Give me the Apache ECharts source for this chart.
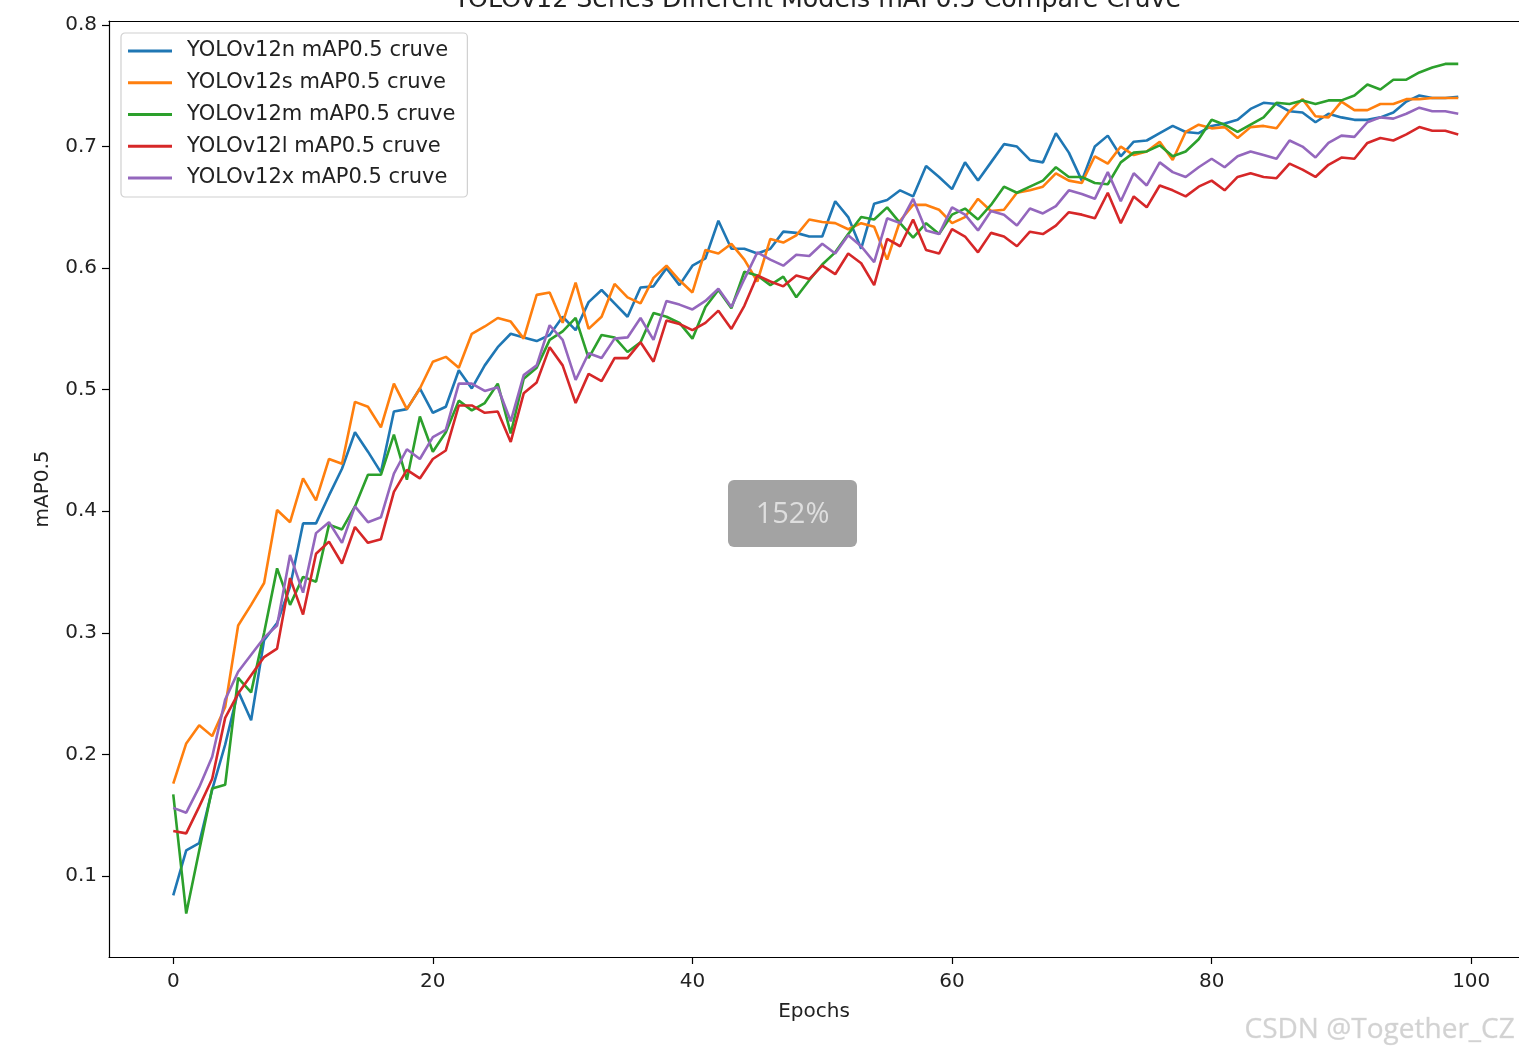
<!DOCTYPE html>
<html>
<head>
<meta charset="utf-8">
<script src="https://cdn.jsdelivr.net/npm/echarts@6/dist/echarts.min.js"></script>
<style>
html,body{margin:0;padding:0;background:#fff;overflow:hidden;}
#chart{width:1519px;height:1057px;}
</style>
</head>
<body>
<div id="chart"></div>
<script>
const seriesNames = ['YOLOv12n mAP0.5 cruve','YOLOv12s mAP0.5 cruve','YOLOv12m mAP0.5 cruve','YOLOv12l mAP0.5 cruve','YOLOv12x mAP0.5 cruve'];
const colors = ['#1f77b4','#ff7f0e','#2ca02c','#d62728','#9467bd'];
const xTicks = [0,20,40,60,80,100];
const yTicks = [0.1,0.2,0.3,0.4,0.5,0.6,0.7,0.8];

const yolo12n = [0.084,0.121,0.127,0.171,0.208,0.252,0.228,0.294,0.308,0.338,
0.390,0.390,0.413,0.435,0.465,0.449,0.432,0.482,0.484,0.501,
0.481,0.486,0.516,0.501,0.520,0.535,0.546,0.543,0.540,0.545,
0.560,0.549,0.572,0.582,0.571,0.560,0.584,0.585,0.600,0.586,
0.602,0.608,0.639,0.616,0.616,0.612,0.616,0.630,0.629,0.626,
0.626,0.655,0.642,0.616,0.653,0.656,0.664,0.659,0.684,0.675,
0.665,0.687,0.672,0.687,0.702,0.700,0.689,0.687,0.711,0.695,
0.672,0.700,0.709,0.692,0.704,0.705,0.711,0.717,0.712,0.711,
0.717,0.719,0.722,0.731,0.736,0.735,0.729,0.728,0.720,0.727,
0.724,0.722,0.722,0.724,0.728,0.737,0.742,0.740,0.740,0.741];

const yolo12s = [0.176,0.209,0.224,0.215,0.239,0.306,0.323,0.341,0.401,0.391,
0.427,0.409,0.443,0.439,0.490,0.486,0.469,0.505,0.484,0.501,
0.523,0.527,0.518,0.546,0.552,0.559,0.556,0.542,0.578,0.580,
0.555,0.588,0.550,0.560,0.587,0.576,0.571,0.592,0.602,0.590,
0.580,0.615,0.612,0.620,0.607,0.589,0.624,0.621,0.627,0.640,
0.638,0.637,0.632,0.637,0.634,0.607,0.639,0.652,0.652,0.648,
0.637,0.642,0.657,0.647,0.648,0.662,0.664,0.667,0.678,0.672,
0.670,0.692,0.686,0.700,0.693,0.696,0.704,0.689,0.712,0.718,
0.715,0.716,0.707,0.716,0.717,0.715,0.729,0.739,0.725,0.724,
0.737,0.730,0.730,0.735,0.735,0.739,0.739,0.740,0.740,0.740];

const yolo12m = [0.167,0.069,0.121,0.172,0.175,0.263,0.251,0.300,0.353,0.323,
0.346,0.342,0.389,0.385,0.404,0.430,0.430,0.463,0.426,0.478,
0.449,0.465,0.491,0.483,0.489,0.505,0.464,0.509,0.518,0.541,
0.548,0.559,0.526,0.545,0.543,0.531,0.539,0.563,0.560,0.555,
0.542,0.568,0.582,0.567,0.597,0.594,0.586,0.593,0.576,0.590,
0.603,0.613,0.628,0.642,0.640,0.650,0.637,0.625,0.637,0.628,
0.644,0.649,0.640,0.652,0.667,0.662,0.667,0.672,0.683,0.675,
0.675,0.670,0.669,0.687,0.695,0.696,0.701,0.692,0.696,0.706,
0.722,0.718,0.712,0.718,0.724,0.736,0.735,0.738,0.735,0.738,
0.738,0.742,0.751,0.747,0.755,0.755,0.761,0.765,0.768,0.768];

const yolo12l = [0.137,0.135,0.157,0.180,0.230,0.250,0.265,0.280,0.287,0.345,
0.315,0.365,0.375,0.357,0.387,0.374,0.377,0.416,0.434,0.427,
0.443,0.450,0.487,0.487,0.481,0.482,0.457,0.497,0.506,0.535,
0.520,0.489,0.513,0.507,0.526,0.526,0.539,0.523,0.557,0.554,
0.549,0.555,0.565,0.550,0.569,0.594,0.589,0.585,0.594,0.591,
0.602,0.595,0.612,0.604,0.586,0.624,0.618,0.640,0.615,0.612,
0.632,0.626,0.613,0.629,0.626,0.618,0.630,0.628,0.635,0.646,
0.644,0.641,0.662,0.637,0.659,0.650,0.668,0.664,0.659,0.667,
0.672,0.664,0.675,0.678,0.675,0.674,0.686,0.681,0.675,0.685,
0.691,0.690,0.703,0.707,0.705,0.710,0.716,0.713,0.713,0.710];

const yolo12x = [0.156,0.152,0.173,0.198,0.245,0.268,0.282,0.296,0.306,0.364,
0.333,0.382,0.391,0.374,0.404,0.391,0.395,0.431,0.451,0.443,
0.461,0.467,0.505,0.505,0.499,0.502,0.474,0.512,0.520,0.553,
0.541,0.508,0.530,0.526,0.542,0.543,0.559,0.541,0.573,0.570,
0.566,0.573,0.583,0.568,0.591,0.613,0.607,0.602,0.611,0.610,
0.620,0.612,0.627,0.618,0.605,0.641,0.637,0.657,0.631,0.628,
0.650,0.644,0.631,0.647,0.644,0.635,0.649,0.645,0.651,0.664,
0.661,0.657,0.679,0.655,0.678,0.668,0.687,0.679,0.675,0.683,
0.690,0.683,0.692,0.696,0.693,0.690,0.705,0.700,0.691,0.703,
0.709,0.708,0.720,0.724,0.723,0.727,0.732,0.729,0.729,0.727];

const allSeries = [yolo12n, yolo12s, yolo12m, yolo12l, yolo12x];

const FONT = 'DejaVu Sans';
const X_MIN = -4.95, X_MAX = 103.68;
const chart = echarts.init(document.getElementById('chart'), null, {renderer:'canvas'});

const option = {
  animation: false,
  backgroundColor: '#ffffff',
  title: {
    text: 'YOLOv12 Series Different Models mAP0.5 Compare Cruve',
    left: 454,
    top: -12,
    padding: 0,
    textStyle: {fontFamily: FONT, fontSize: 25.3, fontWeight: 'normal', color: '#222'}
  },
  grid: {
    left: 109, top: 21, right: 0, bottom: 100,
    show: false
  },
  legend: {
    orient: 'vertical',
    left: 121, top: 33,
    data: seriesNames,
    icon: 'rect',
    itemWidth: 44, itemHeight: 3,
    itemGap: 9.75,
    padding: [7, 12, 8, 7],
    backgroundColor: 'rgba(255,255,255,0.85)',
    borderColor: '#d0d0d0', borderWidth: 1.2, borderRadius: 4,
    textStyle: {fontFamily: FONT, fontSize: 21, color: '#222', lineHeight: 22, padding: [0,0,0,10]}
  },
  xAxis: [{
    type: 'value',
    min: X_MIN, max: X_MAX,
    name: 'Epochs',
    nameLocation: 'middle',
    nameGap: 45,
    nameTextStyle: {fontFamily: FONT, fontSize: 20, color: '#222'},
    axisLine: {show: true, onZero: false, lineStyle: {color: '#000', width: 1.2}},
    axisTick: {show: true, inside: false, length: 7, customValues: xTicks, lineStyle: {color: '#000', width: 1.2}},
    axisLabel: {customValues: xTicks, fontFamily: FONT, fontSize: 20, color: '#222', margin: 15},
    splitLine: {show: false}
  }, {
    type: 'value',
    position: 'top',
    min: X_MIN, max: X_MAX,
    axisLine: {show: true, onZero: false, lineStyle: {color: '#000', width: 1.2}},
    axisTick: {show: false},
    axisLabel: {show: false},
    splitLine: {show: false}
  }],
  yAxis: {
    type: 'value',
    min: 0.0333, max: 0.8033,
    name: 'mAP0.5',
    nameLocation: 'middle',
    nameGap: 56,
    nameRotate: 90,
    nameTextStyle: {fontFamily: FONT, fontSize: 20, color: '#222'},
    axisLine: {show: true, onZero: false, lineStyle: {color: '#000', width: 1.2}},
    axisTick: {show: true, inside: false, length: 7, customValues: yTicks, lineStyle: {color: '#000', width: 1.2}},
    axisLabel: {customValues: yTicks, fontFamily: FONT, fontSize: 20, color: '#222', margin: 12,
      formatter: v => v.toFixed(1)},
    splitLine: {show: false}
  },
  series: allSeries.map((vals, k) => ({
    name: seriesNames[k],
    type: 'line',
    xAxisIndex: 0,
    data: vals.map((v, i) => [i, v]),
    symbol: 'none',
    color: colors[k],
    lineStyle: {width: 2.6, color: colors[k]},
    z: 2 + k
  })),
  graphic: [
    {
      type: 'group', left: 728, top: 480, z: 100,
      children: [
        {type: 'rect', shape: {x: 0, y: 0, width: 129, height: 67, r: 6}, style: {fill: '#a3a3a3'}},
        {type: 'text', x: 64.5, y: 35, style: {text: '152%', fontFamily: 'Open Sans', fontSize: 29, fill: '#dedede', align: 'center', verticalAlign: 'middle'}}
      ]
    },
    {
      type: 'text', right: 4, top: 1016, z: 100,
      style: {text: 'CSDN @Together_CZ', fontFamily: 'Open Sans', fontSize: 28, fill: '#d2d2d2',
        stroke: '#e6e6e6', lineWidth: 0.5}
    }
  ]
};
chart.setOption(option);
</script>
</body>
</html>
